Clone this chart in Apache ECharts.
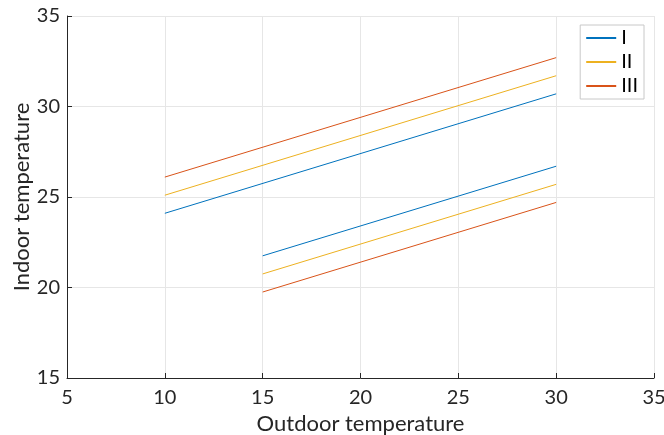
<!DOCTYPE html>
<html>
<head>
<meta charset="utf-8">
<script src="https://cdn.jsdelivr.net/npm/echarts@6/dist/echarts.min.js"></script>
<style>html,body{margin:0;padding:0;background:#fff}#c{width:664px;height:435px}</style>
</head>
<body>
<div id="c"></div>
<script>
const categories = ['I', 'II', 'III'];
const upperX = [10, 30];
const lowerX = [15, 30];
const upperI = [24.1, 30.7];
const upperII = [25.1, 31.7];
const upperIII = [26.1, 32.7];
const lowerI = [21.75, 26.7];
const lowerII = [20.75, 25.7];
const lowerIII = [19.75, 24.7];
const colors = ['#0072BD', '#EDB120', '#D95319'];
const xTicks = [5, 10, 15, 20, 25, 30, 35];
const yTicks = [15, 20, 25, 30, 35];

const font = 'Lato, "Open Sans", sans-serif';
const pairs = (xs, ys) => xs.map((x, i) => [x, ys[i]]);
const uppers = [upperI, upperII, upperIII];
const lowers = [lowerI, lowerII, lowerIII];
const series = [];
categories.forEach((name, i) => {
  series.push({name, type: 'line', data: pairs(upperX, uppers[i]), showSymbol: false, lineStyle: {width: 1, color: colors[i]}, itemStyle: {color: colors[i]}, silent: true});
  series.push({name, type: 'line', data: pairs(lowerX, lowers[i]), showSymbol: false, lineStyle: {width: 1, color: colors[i]}, itemStyle: {color: colors[i]}, silent: true});
});

const chart = echarts.init(document.getElementById('c'), null, {renderer: 'canvas'});
chart.setOption({
  animation: false,
  backgroundColor: '#fff',
  grid: {left: 67, right: 10, top: 16, bottom: 57, containLabel: false, outerBoundsMode: 'none'},
  legend: {
    data: categories,
    orient: 'vertical',
    right: 20,
    top: 25,
    itemWidth: 30,
    itemHeight: 2,
    itemGap: 4,
    icon: 'rect',
    padding: [3, 6, 3, 6],
    borderColor: '#c8c8c8',
    borderWidth: 1,
    backgroundColor: '#fff',
    textStyle: {fontFamily: font, fontSize: 20, color: '#000', padding: [0, 0, 0, 0]}
  },
  xAxis: {
    type: 'value', min: xTicks[0], max: xTicks[xTicks.length - 1], interval: 5,
    name: 'Outdoor temperature', nameLocation: 'middle', nameGap: 35,
    nameTextStyle: {fontFamily: font, fontSize: 22, color: '#262626'},
    axisLine: {show: true, lineStyle: {color: '#262626', width: 1}},
    axisTick: {show: true, inside: true, length: 5, lineStyle: {color: '#262626'}},
    axisLabel: {fontFamily: font, fontSize: 20, color: '#262626', margin: 10},
    splitLine: {show: true, lineStyle: {color: '#e6e6e6', width: 1}}
  },
  yAxis: {
    type: 'value', min: yTicks[0], max: yTicks[yTicks.length - 1], interval: 5,
    name: 'Indoor temperature', nameLocation: 'middle', nameGap: 34, nameMoveOverlap: false,
    nameTextStyle: {fontFamily: font, fontSize: 22, color: '#262626'},
    axisLine: {show: true, lineStyle: {color: '#262626', width: 1}},
    axisTick: {show: true, inside: true, length: 5, lineStyle: {color: '#262626'}},
    axisLabel: {fontFamily: font, fontSize: 20, color: '#262626', margin: 7},
    splitLine: {show: true, lineStyle: {color: '#e6e6e6', width: 1}}
  },
  series
});
</script>
</body>
</html>
